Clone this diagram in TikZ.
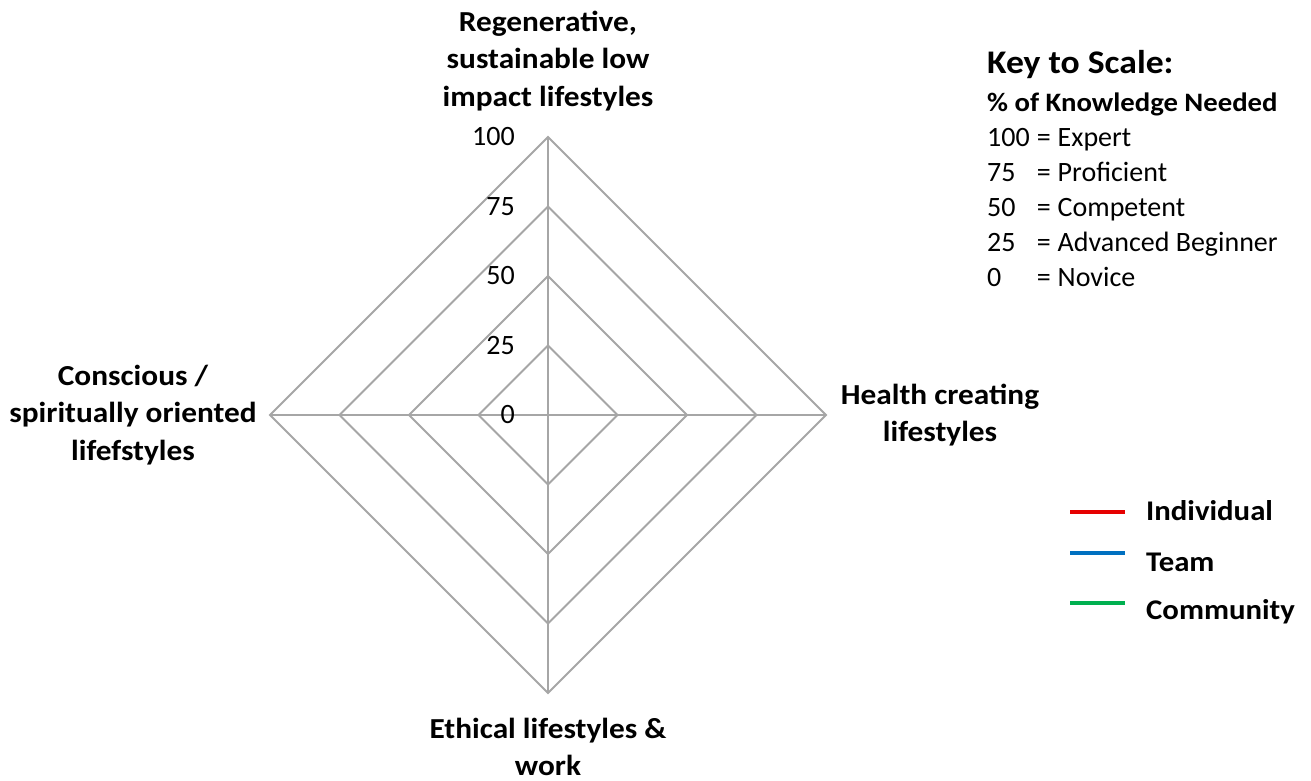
\documentclass[tikz,border=0pt]{standalone}
\usepackage{fontspec}
\setmainfont{Carlito}[BoldFeatures={FakeStretch=1.08}]
\definecolor{gridgray}{RGB}{166,166,166}
\definecolor{indred}{RGB}{230,0,0}
\definecolor{teamblue}{RGB}{0,112,192}
\definecolor{commgreen}{RGB}{0,176,80}
\begin{document}
\begin{tikzpicture}[x=1pt,y=-1pt,
  grid/.style={draw=gridgray, line width=1.8pt},
  axislabel/.style={font=\fontsize{29}{37.5}\selectfont\bfseries, align=center, inner sep=0pt},
  scalelabel/.style={font=\fontsize{28}{30}\selectfont, anchor=east, inner sep=0pt},
  keytext/.style={font=\fontsize{28}{35}\selectfont, anchor=north west, inner sep=0pt},
  legline/.style={line width=3.5pt},
  legtext/.style={font=\fontsize{28.5}{30}\selectfont\bfseries, anchor=west, inner sep=0pt}]
\useasboundingbox (0,0) rectangle (1311,781);

% radar grid
\coordinate (O) at (548,415);
\coordinate (T) at (548,137);
\coordinate (R) at (826,415);
\coordinate (B) at (548,693);
\coordinate (L) at (270,415);
\foreach \r in {69.5,139,208.5,278}
  \draw[grid, line join=miter] (O) ++(0,-\r) -- ++(\r,\r) -- ++(-\r,\r) -- ++(-\r,-\r) -- cycle;
\draw[grid] (T) -- (B);
\draw[grid] (L) -- (R);

% scale values
\foreach \v/\r in {0/0,25/69.5,50/139,75/208.5,100/278}
  \node[scalelabel] (s\v) at (515,415-\r) {\v};

% axis labels
\node[axislabel] (top) at (548,61) {Regenerative,\\sustainable low\\impact lifestyles};
\node[axislabel] (right) at (940,415) {Health creating\\lifestyles};
\node[axislabel] (bottom) at (548,747) {Ethical lifestyles \&\\work};
\node[axislabel] (left) at (133,415) {Conscious /\\spiritually oriented\\lifefstyles};

% key to scale
\node[font=\fontsize{33}{36}\selectfont\bfseries, anchor=west, inner sep=0pt] (keytitle) at (987,65) {Key to Scale:};
\node[keytext] (keybody) at (987,87) {%
  \begin{tabular}{@{}l@{\hspace{7pt}}l@{\hspace{7pt}}l@{}}
  \multicolumn{3}{@{}l@{}}{\fontsize{26.6}{35}\selectfont\bfseries\% of Knowledge Needed}\\
  100 & = & Expert\\
  75 & = & Proficient\\
  50 & = & Competent\\
  25 & = & Advanced Beginner\\
  0 & = & Novice
  \end{tabular}};

% series legend
\coordinate (l1a) at (1070,512); \coordinate (l1b) at (1125,512);
\coordinate (l2a) at (1070,553); \coordinate (l2b) at (1125,553);
\coordinate (l3a) at (1070,603); \coordinate (l3b) at (1125,603);
\draw[legline, indred] (l1a) -- (l1b);
\draw[legline, teamblue] (l2a) -- (l2b);
\draw[legline, commgreen] (l3a) -- (l3b);
\node[legtext] (ind) at (1146,511) {Individual};
\node[legtext] (team) at (1146,562) {Team};
\node[legtext] (comm) at (1146,612) {Community};
\end{tikzpicture}
\end{document}
